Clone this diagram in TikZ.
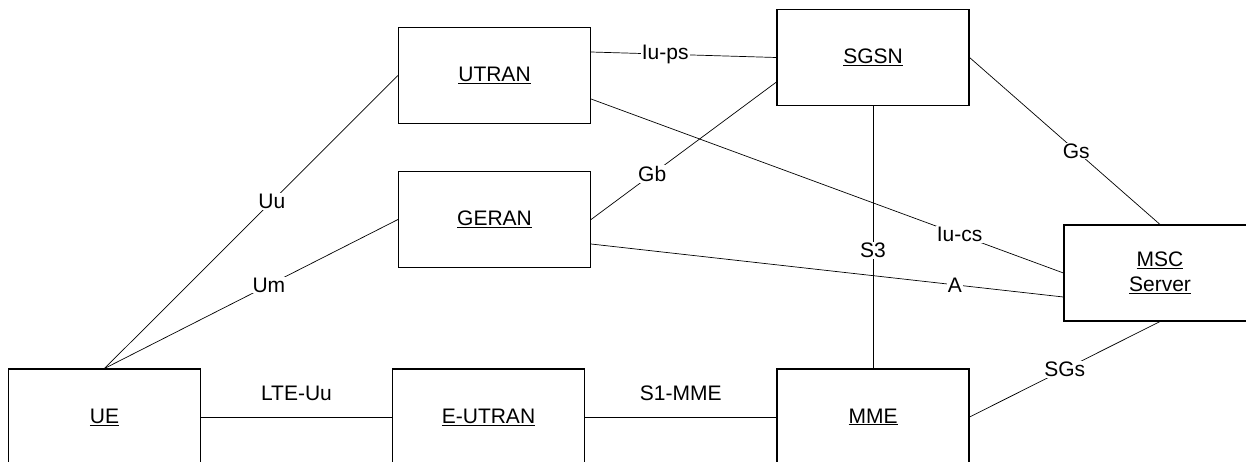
\documentclass[tikz,border=0pt]{standalone}
\usepackage{fontspec}
\setmainfont{Liberation Sans}
\begin{document}
\begin{tikzpicture}[x=1pt,y=-1pt,
  netbox/.style={draw, line width=1.1pt, minimum width=192pt, minimum height=96pt, align=center, inner sep=0},
  link/.style={line width=0.7pt},
  lab/.style={fill=white, inner sep=1pt},
  font=\fontsize{21pt}{25pt}\selectfont]
\useasboundingbox (0,0) rectangle (1246,461);
% network elements
\node[netbox] (UE)     at (104.5,417) {\underline{UE}};
\node[netbox] (EUTRAN) at (488.5,417) {\underline{E-UTRAN}};
\node[netbox] (MME)    at (873,417)   {\underline{MME}};
\node[netbox] (UTRAN)  at (494.5,75.5) {\underline{UTRAN}};
\node[netbox] (GERAN)  at (494.5,219.5) {\underline{GERAN}};
\node[netbox] (SGSN)   at (873,57.5)  {\underline{SGSN}};
\node[netbox] (MSC)    at (1160,273)  {\underline{MSC}\\\underline{Server}};
% interfaces
\draw[link] (UE.north) -- (UTRAN.west) node[lab, pos=0.57] {Uu};
\draw[link] (UE.north) -- (GERAN.west) node[lab, pos=0.56] {Um};
\draw[link] (UE.east) -- (EUTRAN.west) node[midway, yshift=24pt] {LTE-Uu};
\draw[link] (EUTRAN.east) -- (MME.west) node[midway, yshift=24pt] {S1-MME};
\draw[link] ([yshift=23.5pt]UTRAN.east) -- (SGSN.west) node[lab, pos=0.4] {Iu-ps};
\draw[link] ([yshift=-23.5pt]UTRAN.east) -- (MSC.west) node[lab, pos=0.78] {Iu-cs};
\draw[link] (GERAN.east) -- ([yshift=-24.5pt]SGSN.west) node[lab, pos=0.33] {Gb};
\draw[link] ([yshift=-24.5pt]GERAN.east) -- ([yshift=-24pt]MSC.west) node[lab, pos=0.77] {A};
\draw[link] (SGSN.south) -- (MME.north) node[lab, pos=0.55] {S3};
\draw[link] (SGSN.east) -- (MSC.north) node[lab, pos=0.56] {Gs};
\draw[link] (MME.east) -- (MSC.south) node[lab, pos=0.5] {SGs};
\end{tikzpicture}
\end{document}
